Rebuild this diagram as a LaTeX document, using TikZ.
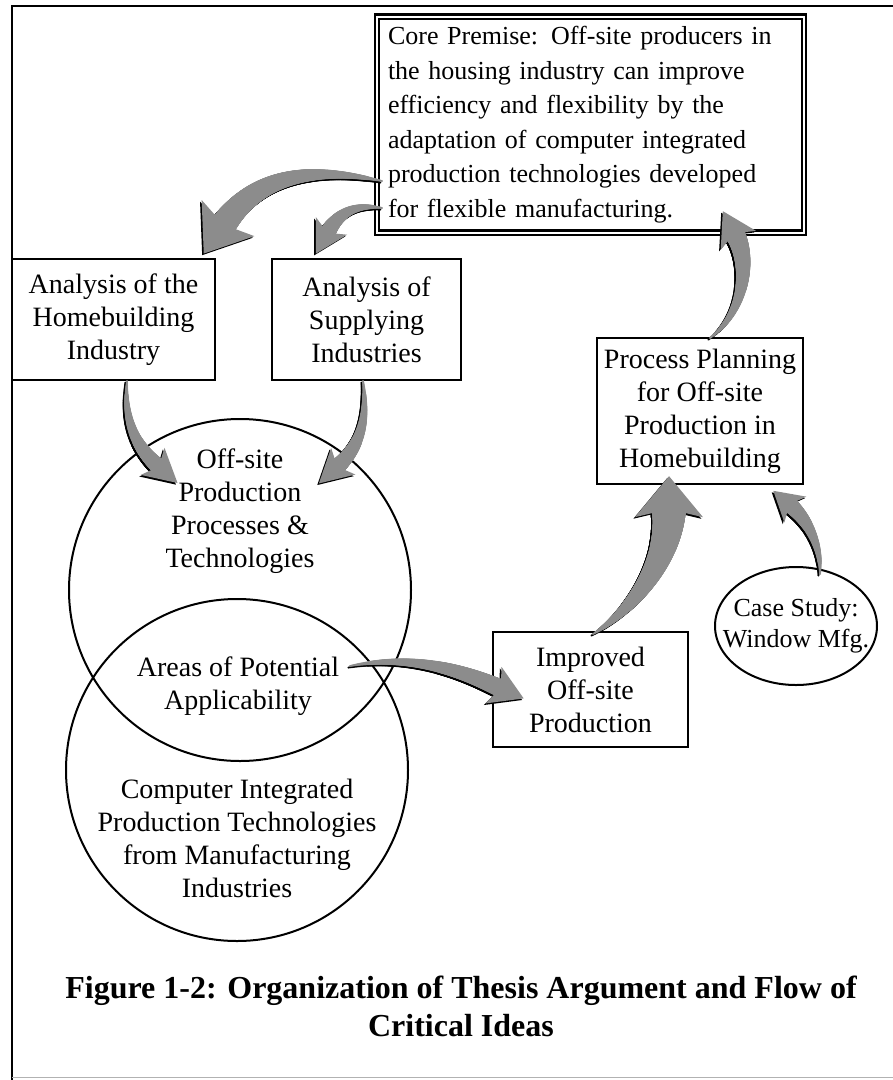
\documentclass[tikz,border=0pt]{standalone}
\usepackage{fontspec}
\setmainfont{Liberation Serif}
\usetikzlibrary{decorations.markings,shapes.geometric,calc}
\definecolor{arrowgray}{gray}{0.55}
\tikzset{
  txt/.style={font=\fontsize{28}{33}\selectfont, align=center},
  box/.style={draw, line width=2pt, txt, inner sep=0pt},
  corebox/.style={draw, line width=2.2pt, double=white, double distance=2pt, inner sep=0pt,
     font=\fontsize{26}{34.5}\selectfont, align=left, text width=405pt},
  ring/.style={draw, circle, line width=2pt, inner sep=0pt},
  oval/.style={draw, line width=2pt},
  plain/.style={txt, inner sep=0pt},
  fatdeco/.style n args={5}{%
    postaction={decorate, decoration={markings,
      mark=between positions 0 and 1 step 0.7pt with {%
        \pgfmathsetmacro\fatr{#2+(#3-#2)*\pgfkeysvalueof{/pgf/decoration/mark info/distance from start}/\pgfdecoratedpathlength}%
        \fill[#1] (0pt,0pt) circle[radius=\fatr pt];
      }}},
    postaction={decorate, decoration={markings,
      mark=at position 0.999 with {\fill[#1] (-7pt,-#4 pt) -- (#5 pt,0pt) -- (-7pt,#4 pt) -- (1pt,0pt) -- cycle;}
    }}
  }
}
\newcommand\fatarrow[5]{%
  \path[fatdeco={black}{#1}{#2}{#3}{#4}, transform canvas={shift={(-1.6pt,-1.6pt)}}] #5;
  \path[fatdeco={arrowgray}{#1}{#2}{#3}{#4}] #5;
}
\begin{document}
\begin{tikzpicture}[x=1pt,y=-1pt]
\useasboundingbox (0,0) rectangle (893,1080);
\fill[white] (0,0) rectangle (893,1080);
% outer frame
\draw[line width=2.5pt] (893,6) -- (12,6) -- (12,1080);
\draw[line width=1pt, black!30] (12,1077) -- (893,1077);

% core premise
\node[corebox, minimum width=427pt, minimum height=216pt] (core) at (590.5,124.5)
  {Core Premise: Off-site producers in\\the housing industry can improve\\efficiency and flexibility by the\\adaptation of computer integrated\\production technologies developed\\for flexible manufacturing.};

% boxes
\node[box, minimum width=203pt, minimum height=121pt] (hb) at (113.5,319.5) {Analysis of the\\Homebuilding\\Industry};
\node[box, minimum width=189pt, minimum height=121pt] (si) at (366.5,319.5) {Analysis of\\Supplying\\Industries};
\node[box, minimum width=206pt, minimum height=146pt] (pp) at (700,411) {Process Planning\\for Off-site\\Production in\\Homebuilding};
\node[box, minimum width=195pt, minimum height=115pt] (ip) at (590.5,689.5) {Improved\\Off-site\\Production};
\node[plain, font=\fontsize{26}{31}\selectfont] (cs) at (796,626) {Case Study:\\Window Mfg.};
\draw[oval] (cs.center) ellipse [x radius=81pt, y radius=59pt];

% circles
\node[ring, minimum size=342pt] (c1) at (240,590) {};
\node[ring, minimum size=342pt] (c2) at (237,770) {};
\node[plain] (c1t) at (240,511) {Off-site\\Production\\Processes \&\\Technologies};
\node[plain] (lens) at (238,686) {Areas of Potential\\Applicability};
\node[plain] (c2t) at (237,838) {Computer Integrated\\Production Technologies\\from Manufacturing\\Industries};

% title
\node[font=\fontsize{32}{38}\selectfont\bfseries, align=center, inner sep=0pt] (title) at (461,1006)
  {Figure 1-2: Organization of Thesis Argument and Flow of\\Critical Ideas};

% arrow end points
\coordinate (t1) at (382,181); \coordinate (e1) at (224,224);
\coordinate (t2) at (382,208); \coordinate (e2) at (328,232);
\coordinate (t3) at (127,381); \coordinate (e3) at (158,466);
\coordinate (t4) at (363,381); \coordinate (e4) at (338,466);
\coordinate (t5) at (350,666); \coordinate (e5) at (500,688);
\coordinate (t6) at (593,634); \coordinate (e6) at (669,510);
\coordinate (t7) at (820,574); \coordinate (e7) at (790,505);
\coordinate (t8) at (710,338); \coordinate (e8) at (735,234);

\fatarrow{1}{13}{32}{36}{(t1) .. controls (300,163) and (252,183) .. (e1)}
\fatarrow{1}{8}{18}{25}{(t2) .. controls (352,203) and (337,216) .. (e2)}
\fatarrow{1}{8}{18}{26}{(t3) .. controls (124,420) and (135,446) .. (e3)}
\fatarrow{1}{8}{18}{26}{(t4) .. controls (368,420) and (360,446) .. (e4)}
\fatarrow{1}{9}{20}{26}{(t5) .. controls (420,652) and (475,677) .. (e5)}
\fatarrow{1}{17}{34}{34}{(t6) .. controls (625,615) and (669,568) .. (e6)}
\fatarrow{1}{8}{17}{22}{(t7) .. controls (821,548) and (810,522) .. (e7)}
\fatarrow{1}{10}{20}{26}{(t8) .. controls (745,312) and (750,262) .. (e8)}
\end{tikzpicture}
\end{document}
